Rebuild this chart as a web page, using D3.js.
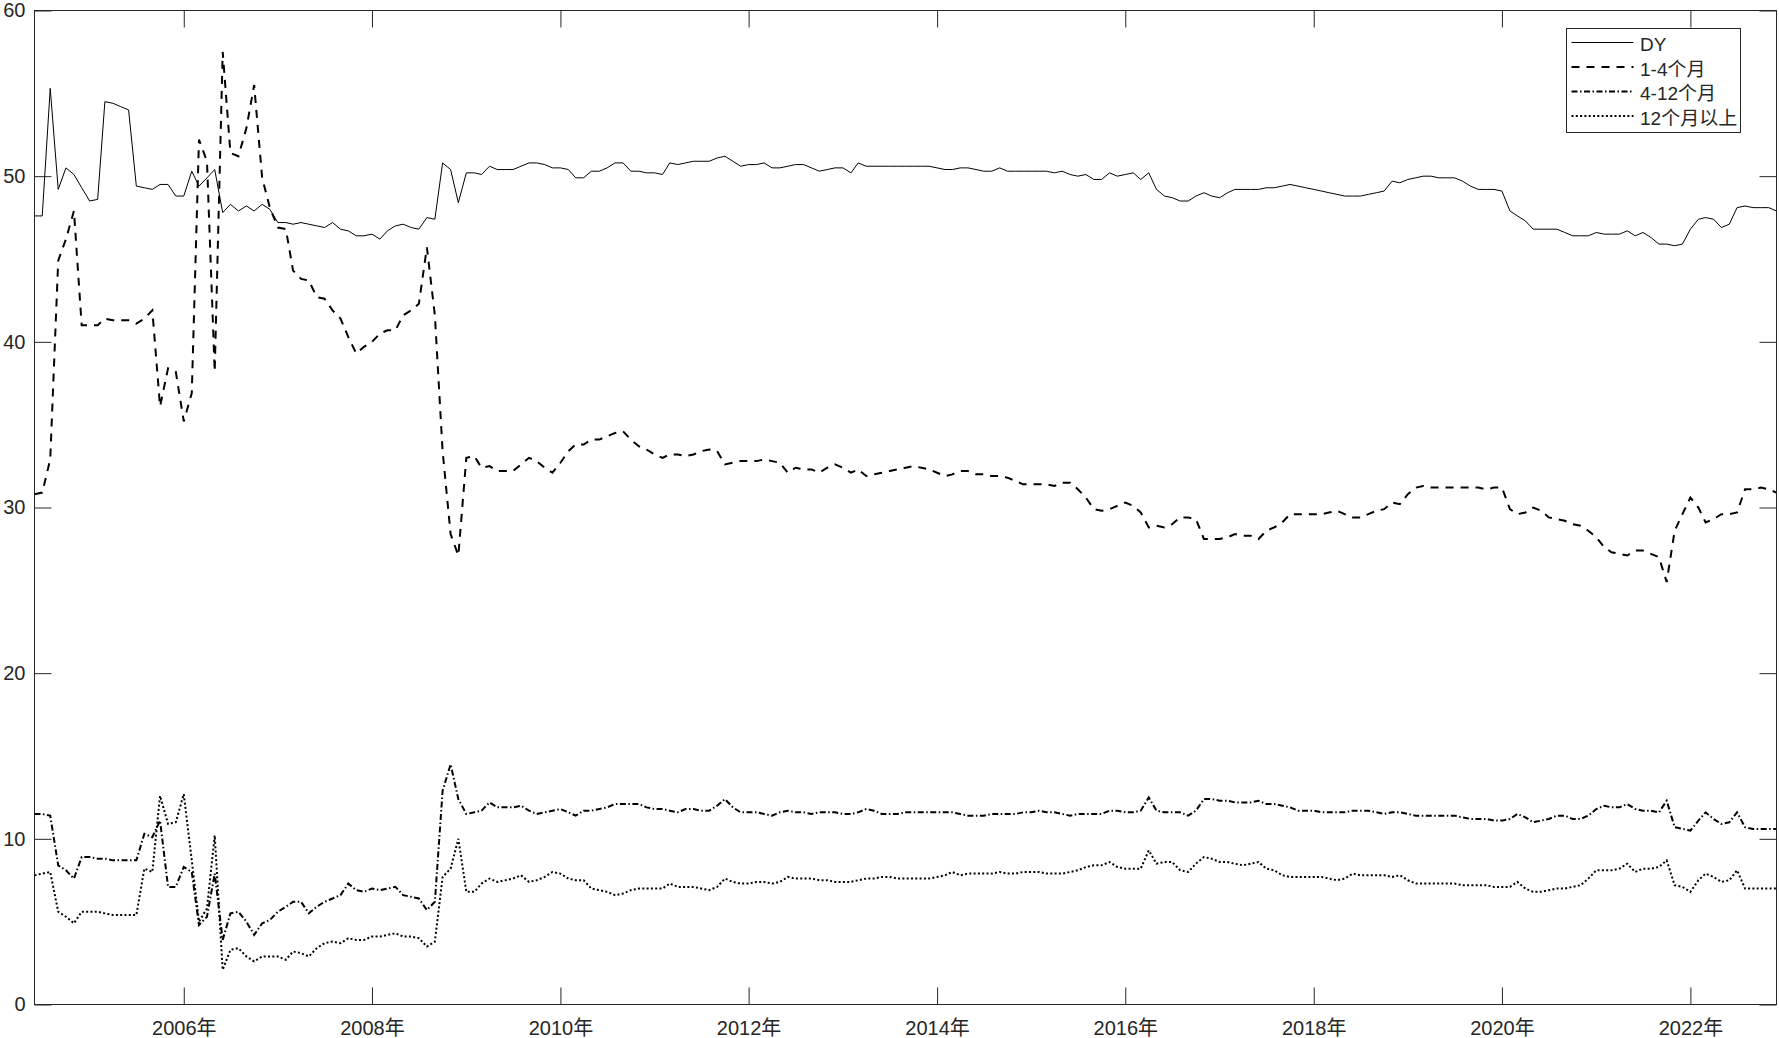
<!DOCTYPE html>
<html>
<head>
<meta charset="utf-8">
<script src="https://cdn.jsdelivr.net/npm/d3@7"></script>
<style>
  html, body { margin: 0; padding: 0; background: #fff; }
  svg { display: block; }
  text { font-family: "Liberation Sans", Arial, "Noto Sans CJK SC", sans-serif; fill: #262626; }
</style>
</head>
<body>
<div id="chart"></div>
<script>
// monthly series, 2004-06 .. 2022-12
var startMonth = new Date(2004, 5, 1);

var seriesNames = ['DY', '1-4个月', '4-12个月', '12个月以上'];

var dy = [
  47.6, 47.6, 55.3, 49.2, 50.5, 50.1, 49.3, 48.5, 48.6, 54.5,
  54.4, 54.2, 54.0, 49.4, 49.3, 49.2, 49.5, 49.5, 48.8, 48.8,
  50.3, 49.4, 49.9, 50.4, 47.8, 48.3, 47.9, 48.2, 47.9, 48.3,
  48.0, 47.2, 47.2, 47.1, 47.2, 47.1, 47.0, 46.9, 47.2, 46.8,
  46.7, 46.4, 46.4, 46.5, 46.2, 46.7, 47.0, 47.1, 46.9, 46.8,
  47.5, 47.4, 50.8, 50.4, 48.4, 50.2, 50.2, 50.1, 50.6, 50.4,
  50.4, 50.4, 50.6, 50.8, 50.8, 50.7, 50.5, 50.5, 50.4, 49.9,
  49.9, 50.3, 50.3, 50.5, 50.8, 50.8, 50.3, 50.3, 50.2, 50.2,
  50.1, 50.8, 50.7, 50.8, 50.9, 50.9, 50.9, 51.1, 51.2, 50.9,
  50.6, 50.7, 50.7, 50.8, 50.5, 50.5, 50.6, 50.7, 50.7, 50.5,
  50.3, 50.4, 50.5, 50.5, 50.2, 50.8, 50.6, 50.6, 50.6, 50.6,
  50.6, 50.6, 50.6, 50.6, 50.6, 50.5, 50.4, 50.4, 50.5, 50.5,
  50.4, 50.3, 50.3, 50.5, 50.3, 50.3, 50.3, 50.3, 50.3, 50.3,
  50.2, 50.3, 50.1, 50.0, 50.1, 49.8, 49.8, 50.2, 50.0, 50.1,
  50.2, 49.8, 50.2, 49.2, 48.8, 48.7, 48.5, 48.5, 48.8, 49.0,
  48.8, 48.7, 49.0, 49.2, 49.2, 49.2, 49.2, 49.3, 49.3, 49.4,
  49.5, 49.4, 49.3, 49.2, 49.1, 49.0, 48.9, 48.8, 48.8, 48.8,
  48.9, 49.0, 49.1, 49.7, 49.6, 49.8, 49.9, 50.0, 50.0, 49.9,
  49.9, 49.9, 49.7, 49.4, 49.2, 49.2, 49.2, 49.1, 47.9, 47.6,
  47.3, 46.8, 46.8, 46.8, 46.8, 46.6, 46.4, 46.4, 46.4, 46.6,
  46.5, 46.5, 46.5, 46.7, 46.4, 46.6, 46.3, 45.9, 45.9, 45.8,
  45.9, 46.8, 47.4, 47.5, 47.4, 46.9, 47.1, 48.1, 48.2, 48.1,
  48.1, 48.1, 47.9
];

var m1to4 = [
  30.8, 30.9, 32.9, 44.9, 46.2, 47.9, 41.0, 41.0, 41.0, 41.4,
  41.3, 41.3, 41.3, 41.1, 41.4, 41.9, 36.1, 38.4, 38.2, 35.2,
  36.9, 52.2, 50.9, 38.2, 57.5, 51.4, 51.2, 52.9, 55.5, 49.9,
  48.1, 46.9, 46.8, 44.3, 43.8, 43.7, 42.7, 42.6, 41.9, 41.4,
  40.3, 39.3, 39.7, 40.0, 40.5, 40.7, 40.7, 41.6, 41.9, 42.3,
  45.7, 41.6, 33.4, 28.4, 27.1, 33.0, 33.1, 32.4, 32.5, 32.2,
  32.2, 32.2, 32.6, 33.0, 32.8, 32.4, 32.1, 32.7, 33.4, 33.8,
  33.8, 34.1, 34.1, 34.3, 34.5, 34.6, 34.1, 33.7, 33.5, 33.2,
  33.0, 33.2, 33.2, 33.1, 33.2, 33.4, 33.5, 33.4, 32.6, 32.7,
  32.8, 32.8, 32.8, 32.9, 32.8, 32.7, 32.1, 32.4, 32.3, 32.3,
  32.1, 32.4, 32.6, 32.4, 32.1, 32.3, 31.9, 32.0, 32.1, 32.2,
  32.3, 32.4, 32.5, 32.4, 32.3, 32.1, 31.9, 32.0, 32.2, 32.2,
  32.0, 32.0, 31.9, 31.9, 31.8, 31.6, 31.4, 31.4, 31.4, 31.4,
  31.3, 31.5, 31.5, 31.1, 30.6, 29.9, 29.8, 29.9, 30.1, 30.3,
  30.1, 29.7, 28.8, 28.9, 28.8, 29.0, 29.4, 29.4, 29.3, 28.1,
  28.1, 28.1, 28.2, 28.4, 28.3, 28.3, 28.1, 28.6, 28.8, 29.1,
  29.6, 29.6, 29.6, 29.6, 29.6, 29.7, 29.8, 29.6, 29.4, 29.4,
  29.6, 29.8, 29.9, 30.3, 30.2, 30.8, 31.2, 31.3, 31.2, 31.2,
  31.2, 31.2, 31.2, 31.2, 31.2, 31.1, 31.2, 31.2, 29.9, 29.6,
  29.7, 30.0, 29.8, 29.4, 29.3, 29.2, 29.0, 28.9, 28.6, 28.2,
  27.6, 27.3, 27.2, 27.1, 27.4, 27.4, 27.2, 27.0, 25.5, 28.6,
  29.6, 30.6, 30.0, 29.1, 29.3, 29.6, 29.6, 29.7, 31.1, 31.1,
  31.2, 31.1, 30.9
];

var m4to12 = [
  11.5, 11.5, 11.4, 8.4, 8.1, 7.6, 8.9, 8.9, 8.8, 8.8,
  8.7, 8.7, 8.7, 8.7, 10.3, 10.1, 11.1, 7.1, 7.1, 8.3,
  8.0, 4.8, 5.3, 7.9, 3.9, 5.5, 5.6, 5.0, 4.2, 4.9,
  5.1, 5.6, 5.9, 6.2, 6.2, 5.5, 5.9, 6.2, 6.4, 6.6,
  7.3, 6.9, 6.8, 7.0, 6.9, 7.0, 7.1, 6.6, 6.5, 6.4,
  5.7, 6.2, 12.9, 14.5, 12.4, 11.5, 11.6, 11.7, 12.2, 11.9,
  11.9, 11.9, 12.0, 11.7, 11.5, 11.6, 11.7, 11.8, 11.6, 11.4,
  11.7, 11.7, 11.8, 11.9, 12.1, 12.1, 12.1, 12.1, 11.9, 11.8,
  11.8, 11.7, 11.6, 11.8, 11.8, 11.7, 11.7, 12.0, 12.4, 11.9,
  11.6, 11.6, 11.6, 11.5, 11.4, 11.6, 11.7, 11.6, 11.6, 11.5,
  11.6, 11.6, 11.6, 11.5, 11.5, 11.6, 11.8, 11.7, 11.5, 11.5,
  11.5, 11.6, 11.6, 11.6, 11.6, 11.6, 11.6, 11.6, 11.5, 11.4,
  11.4, 11.4, 11.5, 11.5, 11.5, 11.5, 11.6, 11.6, 11.7, 11.6,
  11.6, 11.5, 11.4, 11.5, 11.5, 11.5, 11.5, 11.7, 11.7, 11.6,
  11.6, 11.7, 12.5, 11.7, 11.6, 11.6, 11.6, 11.4, 11.7, 12.4,
  12.4, 12.3, 12.3, 12.2, 12.2, 12.2, 12.3, 12.1, 12.1, 12.0,
  11.9, 11.7, 11.7, 11.7, 11.6, 11.6, 11.6, 11.6, 11.7, 11.7,
  11.7, 11.6, 11.5, 11.6, 11.6, 11.5, 11.4, 11.4, 11.4, 11.4,
  11.4, 11.4, 11.3, 11.2, 11.2, 11.2, 11.1, 11.1, 11.2, 11.5,
  11.3, 11.0, 11.1, 11.2, 11.4, 11.4, 11.2, 11.2, 11.4, 11.8,
  12.0, 11.9, 11.9, 12.1, 11.8, 11.7, 11.7, 11.6, 12.3, 10.7,
  10.6, 10.5, 11.1, 11.6, 11.2, 10.9, 11.0, 11.6, 10.7, 10.6,
  10.6, 10.6, 10.6
];

var m12plus = [
  7.8, 7.9, 8.0, 5.6, 5.3, 4.9, 5.6, 5.6, 5.6, 5.5,
  5.4, 5.4, 5.4, 5.4, 8.2, 8.0, 12.6, 10.9, 11.0, 12.7,
  8.7, 5.0, 5.8, 10.2, 2.1, 3.3, 3.4, 2.9, 2.6, 2.9,
  2.9, 2.9, 2.7, 3.2, 3.1, 2.9, 3.4, 3.7, 3.8, 3.7,
  4.0, 3.9, 3.9, 4.1, 4.1, 4.2, 4.3, 4.1, 4.1, 4.0,
  3.5, 3.8, 7.7, 8.2, 10.0, 6.8, 6.8, 7.3, 7.6, 7.4,
  7.5, 7.6, 7.8, 7.4, 7.5, 7.7, 8.0, 7.9, 7.6, 7.5,
  7.5, 7.0, 6.9, 6.8, 6.6, 6.7, 6.9, 7.0, 7.0, 7.0,
  7.0, 7.3, 7.1, 7.1, 7.1, 7.0, 6.9, 7.1, 7.6, 7.4,
  7.3, 7.3, 7.4, 7.4, 7.3, 7.4, 7.7, 7.6, 7.6, 7.6,
  7.5, 7.5, 7.4, 7.4, 7.4, 7.5, 7.6, 7.6, 7.7, 7.7,
  7.6, 7.6, 7.6, 7.6, 7.6, 7.7, 7.8, 8.0, 7.8, 7.9,
  7.9, 7.9, 7.9, 8.0, 7.9, 7.9, 8.0, 8.0, 8.0, 7.9,
  7.9, 7.9, 8.0, 8.1, 8.3, 8.4, 8.4, 8.6, 8.3, 8.2,
  8.2, 8.2, 9.3, 8.5, 8.6, 8.6, 8.1, 8.0, 8.5, 8.9,
  8.8, 8.6, 8.6, 8.5, 8.4, 8.5, 8.6, 8.2, 8.1, 7.8,
  7.7, 7.7, 7.7, 7.7, 7.7, 7.6, 7.5, 7.6, 7.9, 7.8,
  7.8, 7.8, 7.8, 7.7, 7.8, 7.5, 7.3, 7.3, 7.3, 7.3,
  7.3, 7.3, 7.2, 7.2, 7.2, 7.2, 7.1, 7.1, 7.1, 7.4,
  7.0, 6.8, 6.8, 6.9, 7.0, 7.0, 7.1, 7.2, 7.6, 8.1,
  8.1, 8.1, 8.2, 8.5, 8.0, 8.2, 8.2, 8.3, 8.7, 7.2,
  7.1, 6.8, 7.5, 7.9, 7.7, 7.4, 7.5, 8.1, 7.0, 7.0,
  7.0, 7.0, 7.0
];

var yTicks = [0, 10, 20, 30, 40, 50, 60];
var xTickYears = [2006, 2008, 2010, 2012, 2014, 2016, 2018, 2020, 2022];

var width = 1779,
  height = 1038,
  margin = { top: 10.5, right: 2.5, bottom: 33.5, left: 34.5 },
  innerW = width - margin.left - margin.right,
  innerH = height - margin.top - margin.bottom,
  tickLen = 17;

var months = d3.range(dy.length).map(function (i) {
  return d3.timeMonth.offset(startMonth, i);
});

var x = d3.scaleTime()
  .domain([months[0], months[months.length - 1]])
  .range([0, innerW]);

var y = d3.scaleLinear()
  .domain([0, 60])
  .range([innerH, 0]);

var svg = d3.select('#chart')
  .append('svg')
  .attr('width', width)
  .attr('height', height);

svg.append('rect')
  .attr('width', width)
  .attr('height', height)
  .attr('fill', '#fff');

var g = svg.append('g')
  .attr('transform', 'translate(' + margin.left + ',' + margin.top + ')');

var xTickDates = xTickYears.map(function (yr) { return new Date(yr, 0, 1); });

// axes: ticks pointing inward on all four sides
var xBottom = g.append('g')
  .attr('transform', 'translate(0,' + innerH + ')')
  .call(d3.axisBottom(x).tickValues(xTickDates).tickSizeInner(-tickLen).tickSizeOuter(0)
    .tickFormat(function (d) { return d.getFullYear() + '年'; }));
xBottom.selectAll('text')
  .attr('dy', null)
  .attr('y', 30)
  .style('font-size', '20px');

g.append('g')
  .call(d3.axisTop(x).tickValues(xTickDates).tickSizeInner(-tickLen).tickSizeOuter(0)
    .tickFormat(''));

var yLeft = g.append('g')
  .call(d3.axisLeft(y).tickValues(yTicks).tickSizeInner(-tickLen).tickSizeOuter(0));
yLeft.selectAll('text')
  .attr('x', -9)
  .style('font-size', '20px');

g.append('g')
  .attr('transform', 'translate(' + innerW + ',0)')
  .call(d3.axisRight(y).tickValues(yTicks).tickSizeInner(-tickLen).tickSizeOuter(0)
    .tickFormat(''));

g.selectAll('.domain').remove();
g.selectAll('.tick line').attr('stroke', '#262626');
g.selectAll('.tick text').attr('fill', '#262626');

var series = [
  { name: seriesNames[0], values: dy, width: 1, dash: null },
  { name: seriesNames[1], values: m1to4, width: 2, dash: '8,7' },
  { name: seriesNames[2], values: m4to12, width: 2, dash: '6,2.5,1.5,2.5' },
  { name: seriesNames[3], values: m12plus, width: 2, dash: '2,2.3' }
];

var line = d3.line()
  .x(function (d, i) { return x(months[i]); })
  .y(function (d) { return y(d); });

g.selectAll('path.series')
  .data(series)
  .enter()
  .append('path')
  .attr('class', 'series')
  .attr('d', function (d) { return line(d.values); })
  .attr('fill', 'none')
  .attr('stroke', '#000')
  .attr('stroke-width', function (d) { return d.width; })
  .attr('stroke-dasharray', function (d) { return d.dash; });

// box
g.append('rect')
  .attr('width', innerW)
  .attr('height', innerH)
  .attr('fill', 'none')
  .attr('stroke', '#262626')
  .attr('stroke-width', 1);

// legend
var legend = svg.append('g')
  .attr('transform', 'translate(1566.5,28.5)');

legend.append('rect')
  .attr('width', 174)
  .attr('height', 104)
  .attr('fill', '#fff')
  .attr('stroke', '#262626')
  .attr('stroke-width', 1);

var item = legend.selectAll('g.item')
  .data(series)
  .enter()
  .append('g')
  .attr('class', 'item')
  .attr('transform', function (d, i) { return 'translate(0,' + (14 + i * 24.5) + ')'; });

item.append('line')
  .attr('x1', 5)
  .attr('x2', 67)
  .attr('stroke', '#000')
  .attr('stroke-width', function (d) { return d.width; })
  .attr('stroke-dasharray', function (d) { return d.dash; });

item.append('text')
  .attr('x', 73.5)
  .attr('dy', '0.45em')
  .style('font-size', '19px')
  .text(function (d) { return d.name; });
</script>
</body>
</html>
